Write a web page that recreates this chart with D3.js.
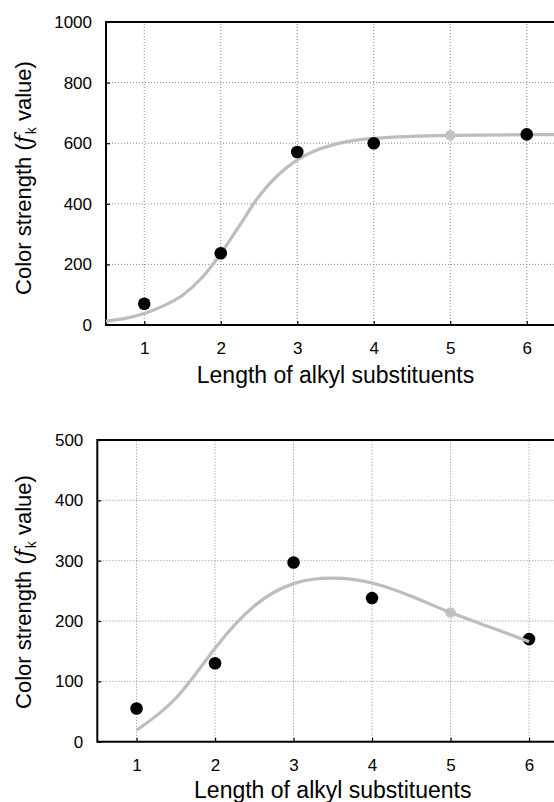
<!DOCTYPE html>
<html><head><meta charset="utf-8">
<script src="https://cdn.jsdelivr.net/npm/d3@7"></script>
<style>body{margin:0;background:#fff}svg{display:block}</style>
</head><body>
<script>
// ---- data ----
const xTicks = [1, 2, 3, 4, 5, 6];
const topYTicks = [0, 200, 400, 600, 800, 1000];
const botYTicks = [0, 100, 200, 300, 400, 500];
const xTitle = "Length of alkyl substituents";

// top panel
const topPointX = [1, 2, 3, 4, 6];
const topPointY = [70, 237, 571, 600, 629];
const topGrayX = [5];
const topGrayY = [626];
const topCurveX = [0.5, 0.75, 1, 1.25, 1.5, 1.75, 2, 2.25, 2.5, 2.75, 3, 3.5, 4, 5, 6, 6.5];
const topCurveY = [13, 22, 38, 63, 98, 155, 236, 330, 425, 495, 545, 597, 616, 626, 628, 628];

// bottom panel
const botPointX = [1, 2, 3, 4, 6];
const botPointY = [55, 130, 297, 238, 170];
const botGrayX = [5];
const botGrayY = [214];
const botCurveX = [1, 1.5, 2, 2.5, 3, 3.5, 4, 4.5, 5, 5.5, 6];
const botCurveY = [19, 72, 155, 225, 262, 271, 263, 241, 214, 190, 166];

const W = 554, H = 802;
const svg = d3.select("body").append("svg").attr("width", W).attr("height", H);
const FONT = "'Liberation Sans', Arial, sans-serif";

function panel(cfg) {
  const x = d3.scaleLinear().domain([0.5, 6.5]).range([cfg.left, cfg.right]);
  const y = d3.scaleLinear().domain([0, cfg.ymax]).range([cfg.bottom, cfg.top]);
  const g = svg.append("g");

  // grid
  g.selectAll(".vg").data(xTicks).join("line")
    .attr("x1", d => x(d)).attr("x2", d => x(d))
    .attr("y1", cfg.bottom).attr("y2", cfg.top)
    .attr("stroke", "#8a8a8a").attr("stroke-width", 1).attr("stroke-dasharray", "1,2");
  g.selectAll(".hg").data(cfg.yTicks.filter(d => d > 0 && d < cfg.ymax)).join("line")
    .attr("x1", cfg.left).attr("x2", cfg.right)
    .attr("y1", d => y(d)).attr("y2", d => y(d))
    .attr("stroke", "#8a8a8a").attr("stroke-width", 1).attr("stroke-dasharray", "1,2");

  // axes via d3
  const xAxis = d3.axisBottom(x).tickValues(xTicks).tickSize(-4).tickPadding(17).tickFormat(d3.format("d"));
  const ax = g.append("g").attr("transform", `translate(0,${cfg.bottom})`).call(xAxis);
  ax.select(".domain").remove();
  ax.selectAll("line").attr("stroke", "#000").attr("stroke-width", 1.2);
  ax.selectAll("text").attr("font-family", FONT).attr("font-size", 17).attr("fill", "#000");

  const yAxis = d3.axisLeft(y).tickValues(cfg.yTicks).tickSize(-4).tickPadding(14).tickFormat(d3.format("d"));
  const ay = g.append("g").attr("transform", `translate(${cfg.left},0)`).call(yAxis);
  ay.select(".domain").remove();
  ay.selectAll("line").attr("stroke", "#000").attr("stroke-width", 1.2);
  ay.selectAll("text").attr("font-family", FONT).attr("font-size", 17).attr("fill", "#000");

  // frame lines (left, bottom, top)
  g.append("line").attr("x1", cfg.left).attr("x2", cfg.right).attr("y1", cfg.bottom).attr("y2", cfg.bottom)
    .attr("stroke", "#000").attr("stroke-width", 2);
  g.append("line").attr("x1", cfg.left).attr("x2", cfg.right).attr("y1", cfg.top).attr("y2", cfg.top)
    .attr("stroke", "#000").attr("stroke-width", 2);
  g.append("line").attr("x1", cfg.left).attr("x2", cfg.left).attr("y1", cfg.top - 1).attr("y2", cfg.bottom + 1)
    .attr("stroke", "#000").attr("stroke-width", 2);

  const line = d3.line().x(d => x(d[0])).y(d => y(d[1])).curve(cfg.curve);
  const curveData = cfg.cx.map((v, i) => [v, cfg.cy[i]]);
  const drawCurve = () => g.append("path").datum(curveData).attr("d", line)
    .attr("fill", "none").attr("stroke", "#bdbdbd").attr("stroke-width", 3.2);

  if (!cfg.curveOnTop) drawCurve();
  g.selectAll(".gp").data(cfg.gx.map((v, i) => [v, cfg.gy[i]])).join("circle")
    .attr("cx", d => x(d[0])).attr("cy", d => y(d[1])).attr("r", 5.3).attr("fill", "#c4c4c4");
  g.selectAll(".bp").data(cfg.px.map((v, i) => [v, cfg.py[i]])).join("circle")
    .attr("cx", d => x(d[0])).attr("cy", d => y(d[1])).attr("r", 6.3).attr("fill", "#000");
  if (cfg.curveOnTop) drawCurve();

  // x title
  g.append("text").attr("x", (cfg.left + cfg.right) / 2).attr("y", cfg.xTitleY)
    .attr("text-anchor", "middle").attr("font-family", FONT).attr("font-size", 23).attr("fill", "#000")
    .text(xTitle);

  // y title
  const yt = g.append("text")
    .attr("transform", `translate(${cfg.yTitleX},${cfg.yTitleCy}) rotate(-90)`)
    .attr("text-anchor", "middle").attr("font-family", FONT).attr("font-size", 22).attr("fill", "#000");
  yt.append("tspan").text("Color strength (");
  yt.append("tspan").attr("font-family", "'DejaVu Serif', serif").attr("font-style", "italic").text("f");
  yt.append("tspan").attr("font-size", 14).attr("dy", 5).attr("dx", 1).text("k");
  yt.append("tspan").attr("dy", -5).text(" value)");
}

panel({left: 106, right: 565, top: 22, bottom: 325, ymax: 1000, yTicks: topYTicks,
  px: topPointX, py: topPointY, gx: topGrayX, gy: topGrayY, cx: topCurveX, cy: topCurveY,
  xTitleY: 383, yTitleX: 31, yTitleCy: 178, curveOnTop: false, curve: d3.curveMonotoneX});

panel({left: 97.3, right: 568.3, top: 440, bottom: 741.7, ymax: 500, yTicks: botYTicks,
  px: botPointX, py: botPointY, gx: botGrayX, gy: botGrayY, cx: botCurveX, cy: botCurveY,
  xTitleY: 798, yTitleX: 31, yTitleCy: 592, curveOnTop: true, curve: d3.curveNatural});
</script>
</body></html>
